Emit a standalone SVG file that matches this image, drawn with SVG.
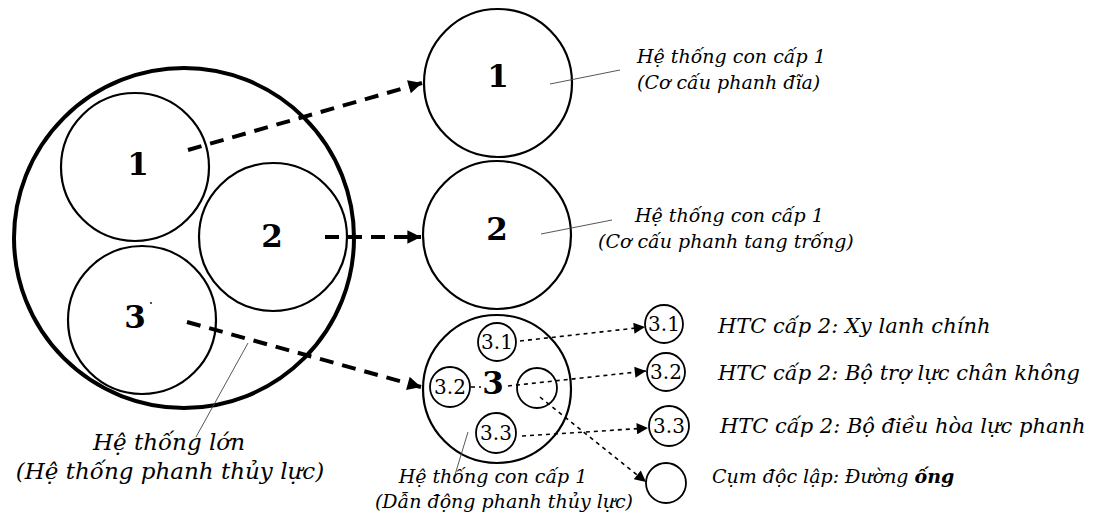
<svg xmlns="http://www.w3.org/2000/svg" width="1093" height="519" viewBox="0 0 1093 519">
<style>
.c{fill:none;stroke:#000;stroke-width:2.2}
.big{fill:none;stroke:#000;stroke-width:4}
.sm{fill:none;stroke:#000;stroke-width:1.8}
.num{font-family:"DejaVu Serif",serif;font-weight:bold;font-size:31px;text-anchor:middle}
.sn{font-family:"DejaVu Serif",serif;font-size:20px;text-anchor:middle}
.lb{font-family:"DejaVu Serif",serif;font-style:italic;font-size:19px}
.lr{font-family:"DejaVu Serif",serif;font-style:italic;font-size:21px}
.lbl{font-family:"DejaVu Serif",serif;font-style:italic;font-size:23px}
.thick{fill:none;stroke:#000;stroke-width:4;stroke-dasharray:14 9}
.thin{fill:none;stroke:#000;stroke-width:1.6;stroke-dasharray:4 4}
.lead{fill:none;stroke:#444;stroke-width:0.9}
</style>
<defs>
<marker id="ah" viewBox="0 0 10 10" refX="10" refY="5" markerWidth="4" markerHeight="3.4" markerUnits="strokeWidth" orient="auto"><path d="M0,0 L10,5 L0,10 z" fill="#000"/></marker>
<marker id="as" viewBox="0 0 10 10" refX="10" refY="5" markerWidth="9" markerHeight="7" markerUnits="strokeWidth" orient="auto"><path d="M0,0 L10,5 L0,10 z" fill="#000"/></marker>
</defs>
<g id="big-system">
<circle class="big" cx="184" cy="238" r="170"/>
</g>
<g id="node-1">
<circle class="c" cx="135" cy="167" r="74"/>
<text class="num" x="138" y="175">1</text>
</g>
<g id="node-2">
<circle class="c" cx="273" cy="237" r="74"/>
<text class="num" x="272" y="247">2</text>
</g>
<g id="node-3">
<circle class="c" cx="142" cy="320" r="74"/>
<text class="num" x="135" y="328">3</text>
<circle cx="151" cy="303" r="0.9" fill="#000"/>
</g>
<g id="sub-1">
<circle class="c" cx="498" cy="83" r="74"/>
<text class="num" x="498" y="87">1</text>
</g>
<g id="sub-2">
<circle class="c" cx="497" cy="235" r="74"/>
<text class="num" x="497" y="240">2</text>
</g>
<g id="sub-3">
<circle class="c" cx="497" cy="389" r="74"/>
<text class="num" x="493" y="394">3</text>
</g>
<g id="in-3-1"><circle class="sm" cx="497" cy="342" r="19"/><text class="sn" x="497" y="349">3.1</text></g>
<g id="in-3-2"><circle class="sm" cx="450" cy="387" r="20"/><text class="sn" x="450" y="394">3.2</text></g>
<g id="in-blank"><circle class="sm" cx="537" cy="388" r="20"/></g>
<g id="in-3-3"><circle class="sm" cx="496" cy="433" r="20"/><text class="sn" x="496" y="440">3.3</text></g>
<g id="out-3-1"><circle class="sm" cx="664" cy="324" r="19"/><text class="sn" x="664" y="331">3.1</text></g>
<g id="out-3-2"><circle class="sm" cx="666" cy="372" r="19"/><text class="sn" x="666" y="379">3.2</text></g>
<g id="out-3-3"><circle class="sm" cx="669" cy="426" r="20"/><text class="sn" x="669" y="433">3.3</text></g>
<g id="out-pipe"><circle class="sm" cx="666" cy="483" r="20"/></g>
<g id="connectors">
<path class="thick" d="M188,150 L422,83" marker-end="url(#ah)"/>
<path class="thick" d="M325,237 L421,237" marker-end="url(#ah)"/>
<path class="thick" d="M187,322 L421,387" marker-end="url(#ah)"/>
<path class="thin" d="M520,341 L645,327" marker-end="url(#as)"/>
<path class="thin" d="M471,387 L481,387"/>
<path class="thin" d="M508,386 L646,371" marker-end="url(#as)"/>
<path class="thin" d="M522,436 L648,428" marker-end="url(#as)"/>
<path class="thin" d="M540,397 L646,482" marker-end="url(#as)"/>
<path class="lead" d="M550,84 L620,70"/>
<path class="lead" d="M541,234 L612,220"/>
<path class="lead" d="M248,343 L196,437"/>
<path class="lead" d="M468,432 L454,478"/>
</g>
<g id="labels">
<text class="lb" x="637" y="63">Hệ thống con cấp 1</text>
<text class="lb" x="637" y="89">(Cơ cấu phanh đĩa)</text>
<text class="lb" x="635" y="222">Hệ thống con cấp 1</text>
<text class="lb" x="598" y="248">(Cơ cấu phanh tang trống)</text>
<text class="lr" x="718" y="333">HTC cấp 2: Xy lanh chính</text>
<text class="lr" x="718" y="380">HTC cấp 2: Bộ trợ lực chân không</text>
<text class="lr" x="720" y="433">HTC cấp 2: Bộ điều hòa lực phanh</text>
<text class="lb" x="712" y="483" font-size="20">Cụm độc lập: Đường <tspan font-weight="bold">ống</tspan></text>
<text class="lbl" x="169" y="450" text-anchor="middle">Hệ thống lớn</text>
<text class="lbl" x="170" y="479" text-anchor="middle">(Hệ thống phanh thủy lực)</text>
<text class="lb" x="493" y="483" text-anchor="middle">Hệ thống con cấp 1</text>
<text class="lb" x="504" y="508" text-anchor="middle" font-size="18">(Dẫn động phanh thủy lực)</text>
</g>
</svg>
